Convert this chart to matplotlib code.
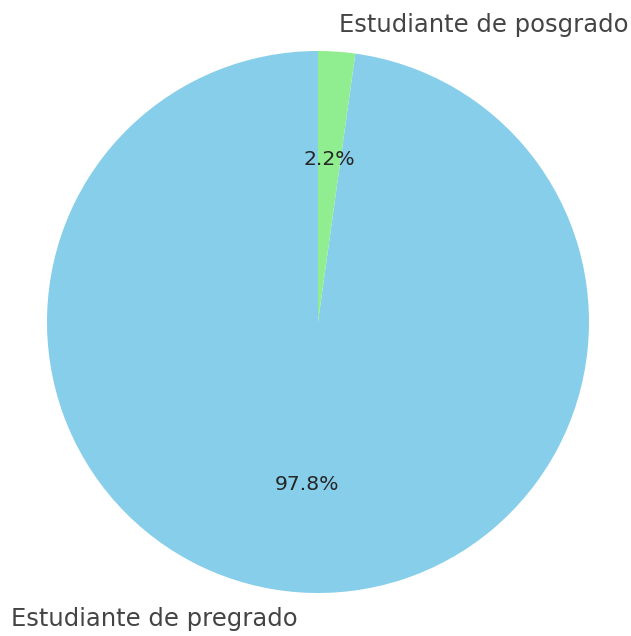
import matplotlib.pyplot as plt

labels = ['Estudiante de pregrado', 'Estudiante de posgrado']
sizes = [97.8, 2.2]
colors = ['skyblue', 'lightgreen']

W, H = 631, 636
fig = plt.figure(figsize=(W / 100, H / 100), dpi=100)
r = 271
cx, cy = 318, 322
ax = fig.add_axes([(cx - r) / W, (H - cy - r) / H, 2 * r / W, 2 * r / H])

wedges, texts, autotexts = ax.pie(sizes, labels=labels, colors=colors,
                                  autopct='%1.1f%%', startangle=90,
                                  textprops={'fontsize': 17.5})
for t in texts:
    t.set_color('#444444')
for t in autotexts:
    t.set_color('#262626')
    t.set_fontsize(14.7)
ax.set_xlim(-1, 1)
ax.set_ylim(-1, 1)
ax.set_aspect('equal')

plt.savefig('out.png', dpi=100)
